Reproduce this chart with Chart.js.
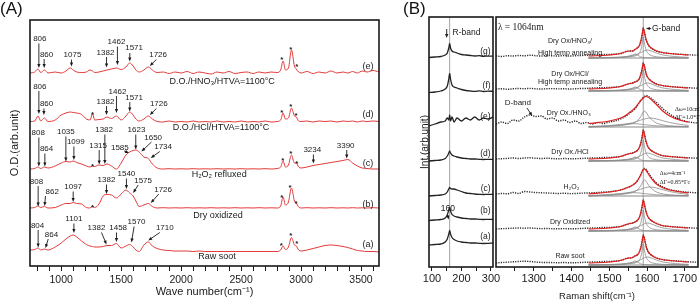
<!DOCTYPE html>
<html lang="en">
  <head>
    <meta charset="utf-8" />
    <title>FTIR and Raman spectra of treated soot</title>
    <style>
      * {
        margin: 0;
        padding: 0;
      }
      body {
        background: #fff;
        font-family: "Liberation Sans", Arial, sans-serif;
      }
      .figure {
        position: relative;
        width: 700px;
        height: 303px;
        overflow: hidden;
      }
      .figure canvas {
        position: absolute;
        left: 0;
        top: 0;
      }
      .panelTag {
        position: absolute;
        top: -1px;
        font-size: 17px;
        line-height: 20px;
        color: #111;
      }
    </style>
  </head>
  <body>
    <div class="figure">
      <canvas id="chartA" width="700" height="303"></canvas>
      <canvas id="chartR" width="700" height="303"></canvas>
      <canvas id="chartG" width="700" height="303"></canvas>
      <div class="panelTag" style="left: 0">(A)</div>
      <div class="panelTag" style="left: 403px">(B)</div>
    </div>

    <script src="https://cdn.jsdelivr.net/npm/chart.js"></script>

    <script>
      // ---------- panel A : FTIR, stacked, heights above each curve's baseline
      const ftirX = [740, 780, 806, 830, 860, 890, 950, 1000, 1040, 1075,
        1100, 1130, 1170, 1210, 1240, 1261, 1280, 1315, 1350, 1382,
        1420, 1460, 1500, 1540, 1571, 1600, 1623, 1650, 1690, 1726,
        1760, 1800, 1850, 1900, 1950, 2000, 2050, 2100, 2150, 2200,
        2250, 2300, 2350, 2400, 2450, 2500, 2550, 2600, 2650, 2700,
        2750, 2800, 2830, 2850, 2870, 2895, 2920, 2945, 2960, 2980,
        3000, 3050, 3100, 3150, 3200, 3250, 3300, 3350, 3390, 3430,
        3470, 3510, 3550, 3600, 3650];
      const ftirE = [0, 1, 4, 0.5, 3, 0, 1, 0, 2, 5,
        3, 1, 0.5, 1, 3, 2, 0.5, 1, 2, 3,
        4, 5, 3.5, 6, 10, 7, 3, 1, 3, 6,
        3, 0.5, 1, -0.5, 1, 0, 1.5, -0.5, 1, 0,
        -1, 1, 0, 1.5, -0.5, 0.5, 1, -0.5, 1, 0,
        1, 0.5, 3, 12, 3, 5, 23, 7, 4, 1,
        0, 1.5, -0.5, 1, 0, 2, 0, 1, 0, 1.5,
        0, 2, 1, 2.5, 1];
      const ftirD = [0.5, 1, 6, 1, 4, 0.5, 2, 7, 9, 10,
        9.5, 9, 7.5, 3, 2, 8, 2, 2.5, 3, 5,
        3.5, 6, 2, 6, 10, 7, 3, 1, 3, 6,
        3, 0.5, 0, 1, 0, 0.5, 0, 1, 0, 0.5,
        0, 1, 0, 0.5, 0, 1, 0, 0.5, 0, 1,
        0, 0.5, 2, 9, 3, 4, 14, 6, 5, 1,
        0.5, 1, 0, 1, 0.5, 1, 0, 1, 0.5, 1,
        0, 1, 0.5, 1, 0.5];
      const ftirC = [0, 0.5, 2, 0.5, 2, 1, 3, 6, 7.5, 7,
        8, 6.5, 5, 3, 2, 3, 2.5, 4, 3.5, 5,
        3, 0, 6, 14, 17, 18.5, 19, 17, 12, 10.5,
        5, 1, 0, 0.3, 0, 0.2, 0, 0.3, 0, 0.2,
        0, 0.3, 0, 0.2, 0, 0.3, 0, 0.2, 0, 0.3,
        0, 0.5, 2, 8, 2, 4, 14, 6, 6, 2,
        1, 2, 3.5, 4.5, 5.5, 6.5, 7.5, 8.5, 9.5, 6,
        3, 1, 0.5, 0, 0];
      const ftirB = [0, 0.5, 2, 0.5, 1.5, 0, 0.5, 3, 4.5, 4.5,
        5.5, 4.5, 4, 0.5, 0, 2, 0.5, 4, 12, 13.5,
        13, 10, 14, 18, 15, 12, 7, 1.5, 3, 4.5,
        1.5, 0, 0.3, 0, 0.2, 0, 0.3, 0, 0.2, 0,
        0.3, 0, 0.2, 0, 0.3, 0, 0.2, 0, 0.3, 0,
        0.2, 0, 2, 11, 3, 6, 20, 7, 5, 1,
        0, 0.3, 0, 0.2, 0, 0.3, 0, 0.2, 0, 0.3,
        0, 0.2, 0, 0.3, 0];
      const ftirA = [2, 2.5, 4, 2, 3, 2, 5, 9, 13, 16,
        17, 15, 11, 7.5, 6, 5.5, 5, 5, 5.5, 6.5,
        6.5, 8.5, 4, 6, 7.5, 5, 2, 0.5, 7, 10,
        6, 3.5, 2, 1.5, 1, 1, 1, 0.5, 1, 0.5,
        0.5, 0.5, 0.5, 0.5, 0.5, 0.5, 0.5, 0.5, 0.5, 0.5,
        0.5, 0.5, 2, 6, 2.5, 5, 14.5, 7, 6, 2,
        1, 2, 3.5, 5, 6.5, 7, 6.5, 5.5, 4.5, 3,
        1.5, 1, 0.5, 0.5, 0];
      const ftirOffsets = [193, 144, 97, 58, 14];
      const ftirTicks = [800, 900, 1000, 1100, 1200, 1300, 1400, 1500, 1600, 1700,
        1800, 1900, 2000, 2100, 2200, 2300, 2400, 2500, 2600, 2700,
        2800, 2900, 3000, 3100, 3200, 3300, 3400, 3500, 3600];
      const ftirTickLabels = [1000, 1500, 2000, 2500, 3000, 3500];

      // peak labels [text, x, y] and their arrows [x0, y0, x1, y1]
      const ftirPeakLabels = [
        ["806", 822, 227], ["860", 878, 211], ["1075", 1094, 211], ["1382", 1369, 213],
        ["1462", 1461, 224], ["1571", 1608, 218], ["1726", 1808, 211],
        ["806", 822, 179], ["860", 878, 162], ["1382", 1369, 164], ["1462", 1469, 174],
        ["1571", 1608, 168], ["1726", 1814, 162],
        ["808", 808, 133], ["864", 878, 117], ["1035", 1039, 134], ["1099", 1122, 124],
        ["1315", 1308, 120], ["1382", 1358, 136], ["1585", 1489, 118], ["1623", 1628, 136],
        ["1650", 1767, 128], ["1734", 1850, 119], ["3234", 3094, 116], ["3390", 3372, 120],
        ["808", 794, 84], ["862", 925, 74], ["1097", 1100, 79], ["1382", 1378, 86],
        ["1540", 1544, 92], ["1575", 1683, 85], ["1726", 1850, 76],
        ["804", 803, 40], ["864", 919, 31], ["1101", 1106, 47], ["1382", 1294, 38],
        ["1458", 1475, 38], ["1570", 1628, 44], ["1710", 1864, 38],
      ];
      const ftirArrows = [
        [814, 222.5, 814, 198], [858, 207, 858, 198], [1086, 206.5, 1086, 199.5],
        [1378, 209, 1378, 198.5], [1469, 219.5, 1469, 201], [1572, 213, 1572, 204.5],
        [1794, 206.5, 1739, 200],
        [814, 175, 814, 152], [856, 157.5, 856, 151], [1378, 160, 1378, 151],
        [1461, 170, 1461, 153], [1572, 164, 1572, 154.5], [1794, 157.5, 1739, 151],
        [814, 128.5, 814, 99.5], [864, 112.5, 864, 99.5], [1039, 129.5, 1039, 104.5],
        [1106, 119.5, 1106, 106], [1317, 116, 1317, 101.5], [1364, 131.5, 1364, 102],
        [1525, 115, 1566, 113], [1622, 131.5, 1622, 116.5], [1753, 124, 1669, 114.5],
        [1822, 114.5, 1747, 108], [3103, 111.5, 3103, 102.5], [3381, 116, 3381, 107.5],
        [808, 80, 808, 59.5], [869, 70, 862, 60], [1100, 74.5, 1100, 64],
        [1378, 81.5, 1378, 72], [1544, 87.5, 1544, 77], [1642, 81, 1600, 73],
        [1814, 72, 1747, 63],
        [808, 36, 808, 18.5], [892, 27, 869, 18], [1106, 42.5, 1106, 33],
        [1336, 33.5, 1378, 21.5], [1461, 33.5, 1461, 24], [1608, 39.5, 1586, 23.5],
        [1822, 33.5, 1726, 25.5],
      ];
      const ftirStars = [
        [2839, 209.5], [2914, 219.5], [2964, 202],
        [2839, 156.5], [2914, 162], [2958, 153.5], [1261, 154.5],
        [2847, 108], [2914, 115], [2964, 105.5], [1261, 102],
        [2839, 71.5], [2908, 81.5], [2958, 65.5], [1261, 61],
        [2836, 23], [2914, 33], [2964, 25],
      ];
      const ftirNames = [
        ["D.O./HNO₃/HTVA=1100°C", 2342, 184], ["D.O./HCl/HTVA=1100°C", 2333, 138],
        ["H₂O₂ refluxed", 2317, 91], ["Dry oxidized", 2308, 50], ["Raw soot", 2300, 9],
      ];
      const ftirTags = [["(e)", 3558, 199], ["(d)", 3558, 151], ["(c)", 3558, 102], ["(b)", 3558, 61], ["(a)", 3558, 21]];

      // ---------- panel B left : R-band (radial breathing) region
      const rbmX = [90, 110, 130, 145, 152, 157, 160, 163, 168, 175, 185, 200, 215, 230, 245, 260, 275, 290, 307];
      const rbmG = [-1, -0.5, 0, 1.5, 3.5, 8.5, 13, 8.5, 5.5, 4.5, 3.5, 2, 1.5, 1, 0.5, 0.8, 0.2, 0.4, 0.3];
      const rbmF = [-1, -0.5, 0.5, 2.5, 5.5, 12.5, 18, 12.5, 6.5, 4.5, 3.5, 2, 1, 0.5, 0.2, 0.6, 0, 0.3, 0.2];
      const rbmE = [-6, -4, -2, -1, 2, 0, 5, -1, 3, -2, 2, -1, 2, 0, 3, 0, 2, 1, 3];
      const rbmD = [-1.5, -1, -0.5, 1, 3.5, 6.5, 8.5, 6.5, 4.5, 3.5, 2.5, 1.5, 1, 0.5, 0.5, 0.2, 0, 0.2, 0];
      const rbmC = [-1.5, -1, -0.5, 0.5, 2.5, 5.5, 7, 6, 5.5, 5.5, 4.5, 3, 1.5, 1, 0.5, 0.2, 0, 0.2, 0];
      const rbmB = [-1, -0.5, 0, 1.5, 4.5, 9.5, 12, 8.5, 5, 3.5, 2.5, 1.5, 1, 0.5, 0.5, 0.2, 0, 0.2, 0];
      const rbmA = [-1.5, -1, -0.5, 1.5, 4.5, 9.5, 13, 9.5, 6, 4, 2.5, 1.5, 1, 0.5, 0.5, 0.2, 0, 0.2, 0.5];
      const rbmOffsets = [210.5, 175.5, 147, 107.5, 72.5, 47.5, 23.5];
      const rbmTicks = [100, 150, 200, 250, 300];
      const rbmTickLabels = [100, 200, 300];

      // ---------- panel B right : G-band region, data (dotted), fit (red), components (grey)
      const ramX = [1200, 1215, 1230, 1245, 1260, 1275, 1290, 1305, 1320, 1335,
        1350, 1365, 1380, 1395, 1410, 1425, 1440, 1455, 1470, 1485,
        1500, 1515, 1530, 1545, 1555, 1562, 1568, 1574, 1579, 1583,
        1587, 1590, 1593, 1597, 1602, 1608, 1615, 1625, 1640, 1660,
        1680, 1700, 1720, 1735];
      const ramDotG = [0, -0.5, 0.3, 0, 0.5, 0.2, 0.8, 0.3, 0, 0.5, 0.2, 0, 0.4, 0, 0.3, 0.5, 0.8, 1, 1.2, 1.5,
        1.5, 2, 2.5, 4.5, 5, 5, 6.5, 8, 10, 14, 21, 28, 24, 17, 12, 9, 7, 5, 3.5, 2.5, 2, 1.5, 1, 0.8];
      const ramDotF = [0, 0.3, -0.3, 0.2, 0.5, 0.3, 0.6, 0.2, 0, 0.3, 0.4, 0.1, 0.3, 0, 0.2, 0.5, 0.6, 1, 1.2, 1.4,
        1.5, 2, 2.5, 4.5, 5.5, 6, 7, 8, 10, 14, 20, 26, 23, 16, 11.5, 9, 7, 5, 3.5, 2.5, 2, 1.5, 1, 0.8];
      const ramDotE = [1, 3, 1.5, 5, 4, 8, 10, 8.5, 9, 6, 7, 4, 5, 2.5, 4, 1.5, 2.5, 1, 2.5, 1.5,
        3, 4, 6, 9, 12, 14, 16, 19, 22, 24, 26, 27.5, 28.5, 29.5, 29, 27.5, 25.5, 22.5, 17, 11, 6.5, 4, 2.5, 2];
      const ramDotD = [0, 0.3, 0.6, 1, 0.5, 1, 1.2, 0.8, 0.5, 0.8, 0.4, 0.2, 0.5, 0.2, 0.3, 0.5, 0.8, 1, 1.2, 1.5,
        1.5, 2, 2.5, 4.5, 5.5, 6, 7, 8.5, 11, 15, 22, 29, 25, 18, 12.5, 9.5, 7.5, 5.5, 3.5, 2.5, 2, 1.5, 1, 0.8];
      const ramDotC = [0, 0.5, 0.2, 1.5, 0.5, 2.5, 2, 1.5, 1.2, 1, 0.8, 0.5, 0.8, 0.4, 0.5, 0.8, 1, 1.2, 1.5, 2,
        2.2, 3, 4, 6, 7.5, 9, 10.5, 13, 16, 19, 22.5, 24.5, 25.5, 25, 22, 18.5, 15, 11, 7.5, 4.5, 3, 2, 1.5, 1];
      const ramDotB = [0, 0.3, 0.5, 0.8, 1, 0.8, 1, 0.6, 0.4, 0.5, 0.3, 0.2, 0.4, 0.2, 0.3, 0.5, 0.8, 1, 1.2, 1.5,
        1.5, 2, 2.5, 4.5, 5.5, 6, 7, 8.5, 11, 15, 22, 29, 25, 18, 12.5, 9.5, 7.5, 5.5, 3.5, 2.5, 2, 1.5, 1, 0.8];
      const ramDotA = [0, 0.5, 0.8, 1.2, 1.5, 1.8, 1.5, 1, 0.6, 0.5, 0.4, 0.3, 0.5, 0.2, 0.3, 0.5, 0.8, 1, 1.2, 1.5,
        1.5, 2, 2.5, 4.5, 5, 5.5, 7, 8, 10.5, 14.5, 21.5, 28, 24.5, 17.5, 12, 9, 7, 5, 3.5, 2.5, 2, 1.5, 1, 0.8];

      const fitX = [1445, 1500, 1530, 1545, 1555, 1562, 1568, 1574, 1579, 1583, 1587,
        1590, 1593, 1597, 1602, 1608, 1615, 1625, 1640, 1660, 1690, 1710];
      const fitG = [0, 1, 2.5, 4.5, 5, 5, 6.5, 8, 10, 14, 21, 28, 24, 17, 12, 9, 7, 5, 3.5, 2.5, 1.5, 1];
      const fitF = [0, 1, 2.5, 4.5, 5.5, 6, 7, 8, 10, 14, 20, 26, 23, 16, 11.5, 9, 7, 5, 3.5, 2.5, 1.5, 1];
      const fitE = [1.5, 4, 7, 10, 13, 15, 17, 20, 22.5, 24.5, 26, 27, 28, 28.5, 28, 26.5, 24, 20.5, 14.5, 9, 4.5, 3];
      const fitD = [0, 1, 2.5, 4.5, 5.5, 6, 7, 8.5, 11, 15, 22, 29, 25, 18, 12.5, 9.5, 7.5, 5.5, 3.5, 2.5, 1.5, 1];
      const fitC = [0, 2, 4, 6, 7.5, 9, 10.5, 13, 16, 19, 22.5, 24.5, 25, 24, 21, 17.5, 14, 10, 6.5, 4, 2, 1];
      const fitB = [0, 1, 2.5, 4.5, 5.5, 6, 7, 8.5, 11, 15.5, 23, 29, 24.5, 17.5, 12.5, 9.5, 7.5, 5.5, 3.5, 2.5, 1.5, 1];
      const fitA = [0, 1, 2.5, 4.5, 5, 5.5, 7, 8, 10.5, 14.5, 21.5, 28, 24.5, 17.5, 12, 9, 7, 5, 3.5, 2.5, 1.5, 1];

      // fitted components: narrow G, broad high-side band, low-side shoulder
      const sharpG = [0, 0.3, 0.6, 1, 1.3, 1.6, 2, 3, 4.5, 7.5, 14, 21, 15, 8.5, 5, 3, 2, 1.2, 0.7, 0.4, 0.2, 0.1];
      const sharpHi = [0, 0.5, 1, 1.5, 2, 2.4, 3, 3.7, 4.5, 5.3, 6, 6.6, 7.2, 7.8, 8, 7.5, 6.5, 5, 3.2, 2, 1, 0.6];
      const sharpLo = [0, 0.2, 0.6, 1.2, 2, 3, 4, 3.3, 2, 1.2, 0.7, 0.5, 0.4, 0.3, 0.2, 0.1, 0.1, 0, 0, 0, 0, 0];
      const broadG = [0, 0.8, 1.5, 2.2, 3, 3.5, 4.5, 6, 8, 10, 13, 15, 16, 15, 12, 9, 6.5, 4, 2.2, 1.2, 0.6, 0.3];
      const broadHi = [0, 1, 2, 3, 3.7, 4.3, 5, 5.7, 6.3, 6.8, 7.3, 7.7, 8, 8.4, 8.8, 9, 8.8, 8, 6.5, 4.5, 2.5, 1.5];
      const broadLo = [0.5, 1.5, 2.5, 3, 3.2, 3.3, 3.3, 3.2, 3, 2.8, 2.6, 2.5, 2.4, 2.2, 2, 1.8, 1.5, 1.2, 0.9, 0.6, 0.3, 0.2];

      const ramOffsets = [211, 178, 142, 108, 73, 38, 4];
      const ramTicks = [1250, 1300, 1350, 1400, 1450, 1500, 1550, 1600, 1650, 1700];
      const ramTickLabels = [1300, 1400, 1500, 1600, 1700];

      // ---------- shared drawing helpers
      const sans = "'Liberation Sans', Arial, sans-serif";
      const serif = "'Liberation Serif', 'Times New Roman', serif";
      Chart.defaults.font.family = sans;
      Chart.defaults.color = "#1a1a1a";

      // labels, arrows, stars, guide lines and the box frame
      const marks = {
        id: "marks",
        beforeDatasetsDraw(chart, args, o) {
          const { ctx, chartArea: { top, bottom }, scales: { x } } = chart;
          ctx.save();
          ctx.strokeStyle = "#8c8c8c";
          ctx.lineWidth = 0.8;
          (o.guides || []).forEach((v) => {
            const px = x.getPixelForValue(v);
            ctx.beginPath();
            ctx.moveTo(px, top);
            ctx.lineTo(px, bottom);
            ctx.stroke();
          });
          ctx.restore();
        },
        afterDatasetsDraw(chart, args, o) {
          const { ctx, chartArea: { left, top, right, bottom }, scales: { x, y } } = chart;
          ctx.save();
          ctx.fillStyle = "#1a1a1a";
          ctx.strokeStyle = "#1a1a1a";
          ctx.lineWidth = 0.9;
          (o.arrows || []).forEach(([x0, y0, x1, y1]) => {
            const ax = x.getPixelForValue(x0), ay = y.getPixelForValue(y0);
            const bx = x.getPixelForValue(x1), by = y.getPixelForValue(y1);
            const a = Math.atan2(by - ay, bx - ax);
            const c = Math.cos(a), s = Math.sin(a);
            ctx.beginPath();
            ctx.moveTo(ax, ay);
            ctx.lineTo(bx - 3 * c, by - 3 * s);
            ctx.stroke();
            ctx.beginPath();
            ctx.moveTo(bx, by);
            ctx.lineTo(bx - 4 * c + 1.6 * s, by - 4 * s - 1.6 * c);
            ctx.lineTo(bx - 4 * c - 1.6 * s, by - 4 * s + 1.6 * c);
            ctx.closePath();
            ctx.fill();
          });
          ctx.textBaseline = "middle";
          (o.texts || []).forEach(([t, tx, ty, size, align, family]) => {
            ctx.font = (size || 8) + "px " + (family || sans);
            ctx.textAlign = align || "center";
            ctx.fillText(t, x.getPixelForValue(tx), y.getPixelForValue(ty));
          });
          ctx.font = "bold 8px " + sans;
          ctx.textAlign = "center";
          ctx.textBaseline = "alphabetic";
          (o.stars || []).forEach(([sx, sy]) => {
            ctx.fillText("*", x.getPixelForValue(sx), y.getPixelForValue(sy) + 5);
          });
          ctx.lineWidth = 1.6;
          ctx.strokeRect(left, top, right - left, bottom - top);
          ctx.restore();
        },
      };

      function line(xs, vals, offset, style) {
        return Object.assign(
          {
            data: xs.map((x, i) => ({ x, y: offset + vals[i] })),
            pointRadius: 0,
            borderWidth: 1,
            fill: false,
            cubicInterpolationMode: "monotone",
          },
          style
        );
      }

      function xAxis(min, max, ticks, labels, fontSize, axisHeight, tickLen, tickPad, title, titleSize, titlePad) {
        return {
          type: "linear",
          min,
          max,
          afterBuildTicks: (s) => {
            s.ticks = ticks.map((v) => ({ value: v }));
          },
          afterFit: (s) => {
            s.height = axisHeight;
          },
          border: { display: false },
          grid: { drawOnChartArea: false, drawTicks: true, tickLength: tickLen, color: "#1a1a1a", lineWidth: 1 },
          ticks: {
            autoSkip: false,
            maxRotation: 0,
            padding: tickPad,
            font: { size: fontSize },
            callback: (v) => (labels.includes(v) ? String(v) : ""),
          },
          title: { display: true, text: title, font: { size: titleSize }, padding: { top: 0, bottom: titlePad } },
        };
      }

      function baseOptions(padding, scales, marksOpts) {
        return {
          responsive: false,
          devicePixelRatio: 1,
          animation: false,
          events: [],
          layout: { autoPadding: false, padding },
          scales,
          plugins: { legend: { display: false }, tooltip: { enabled: false }, marks: marksOpts },
        };
      }

      // ---------- chart A
      const ftirSeries = [ftirE, ftirD, ftirC, ftirB, ftirA];
      new Chart(document.getElementById("chartA"), {
        type: "line",
        data: {
          datasets: ftirSeries.map((vals, k) =>
            line(ftirX, vals, ftirOffsets[k], { borderColor: "#e23a3a", borderWidth: 1 })
          ),
        },
        options: baseOptions(
          { left: 0, right: 321, top: 20, bottom: 0 },
          {
            x: xAxis(740, 3650, ftirTicks, ftirTickLabels, 10.5, 37, 5, 3, "Wave number(cm⁻¹)", 11, 4),
            y: {
              min: 0,
              max: 246,
              afterFit: (s) => {
                s.width = 30;
              },
              border: { display: false },
              grid: { display: false },
              ticks: { display: false },
              title: { display: true, text: "O.D.(arb.unit)", font: { size: 11 }, padding: { top: 8, bottom: 0 } },
            },
          },
          {
            texts: ftirPeakLabels.map((p) => [p[0], p[1], p[2], 8])
              .concat(ftirNames.map((p) => [p[0], p[1], p[2], 9]))
              .concat(ftirTags.map((p) => [p[0], p[1], p[2], 9])),
            arrows: ftirArrows,
            stars: ftirStars,
          }
        ),
        plugins: [marks],
      });

      // ---------- chart B left (R-band)
      const rbmSeries = [rbmG, rbmF, rbmE, rbmD, rbmC, rbmB, rbmA];
      new Chart(document.getElementById("chartR"), {
        type: "line",
        data: {
          datasets: rbmSeries.map((vals, k) =>
            line(rbmX, vals, rbmOffsets[k], { borderColor: "#222", borderWidth: 1.3 })
          ),
        },
        options: baseOptions(
          { left: 400, right: 207, top: 17, bottom: 0 },
          {
            x: xAxis(90, 307, rbmTicks, rbmTickLabels, 11, 36, 4, 1, "", 10, 0),
            y: {
              min: 0,
              max: 250,
              afterFit: (s) => {
                s.width = 29;
              },
              border: { display: false },
              grid: { display: false },
              ticks: { display: false },
              title: { display: true, text: "Int.(arb.unit)", font: { size: 10 }, padding: { top: 19, bottom: 0 } },
            },
          },
          {
            guides: [160],
            texts: [
              ["R-band", 170, 234, 8.5, "left"],
              ["(g)", 299, 215.5, 8.5, "right"], ["(f)", 299, 181, 8.5, "right"],
              ["(e)", 299, 150, 8.5, "right"], ["(d)", 299, 113, 8.5, "right"],
              ["(c)", 299, 78, 8.5, "right"], ["(b)", 299, 56.5, 8.5, "right"],
              ["(a)", 299, 30, 8.5, "right"], ["160", 154, 58, 8.5],
            ],
            arrows: [[150, 238, 150, 229], [152, 53, 157, 47.5]],
          }
        ),
        plugins: [marks],
      });

      // ---------- chart B right (G-band)
      const ramDots = [ramDotG, ramDotF, ramDotE, ramDotD, ramDotC, ramDotB, ramDotA];
      const ramFits = [fitG, fitF, fitE, fitD, fitC, fitB, fitA];
      const ramKinds = ["sharp", "sharp", "broad", "sharp", "broad", "sharp", "sharp"];
      const compSets = { sharp: [sharpG, sharpHi, sharpLo], broad: [broadG, broadHi, broadLo] };
      const ramDatasets = [];
      ramDots.forEach((dots, k) => {
        const off = ramOffsets[k];
        ramDatasets.push(line(fitX, fitX.map(() => 0), off - 2, { borderColor: "#8a8a8a", borderWidth: 1.1, order: 3 }));
        compSets[ramKinds[k]].forEach((comp) =>
          ramDatasets.push(line(fitX, comp, off - 2, { borderColor: "#8a8a8a", borderWidth: 0.8, order: 2 }))
        );
        ramDatasets.push(line(ramX, dots, off, { borderColor: "#2a2a2a", borderWidth: 1.4, borderDash: [1.2, 1.2], order: 1 }));
        ramDatasets.push(line(fitX, ramFits[k], off, { borderColor: "#e01e1e", borderWidth: 1.2, order: 0 }));
      });

      new Chart(document.getElementById("chartG"), {
        type: "line",
        data: { datasets: ramDatasets },
        options: baseOptions(
          { left: 496, right: 2, top: 17, bottom: 0 },
          {
            x: xAxis(1200, 1735, ramTicks, ramTickLabels, 11, 36, 4, 1, "Raman shift(cm⁻¹)", 9.5, 0.5),
            y: { display: false, min: 0, max: 250 },
          },
          {
            guides: [1590],
            texts: [
              ["λ = 1064nm", 1205, 240, 9.5, "left", serif],
              ["G-band", 1613, 238.5, 8.5, "left"],
              ["Dry Ox/HNO₃/", 1396, 225.5, 7], ["High temp annealing", 1396, 214, 7],
              ["Dry Ox/HCl/", 1396, 193, 7], ["High temp annealing", 1396, 184.5, 7],
              ["D-band", 1258, 164, 8],
              ["Dry Ox./HNO₃", 1393, 153.5, 7],
              ["Δω=10cm⁻¹", 1674, 158, 6, "left", serif], ["ΔΓ=1.0*Γc", 1674, 150, 6, "left", serif],
              ["Dry Ox./HCl", 1396, 115, 7],
              ["Δω=4cm⁻¹", 1634, 94, 6, "left", serif], ["ΔΓ=0.85*Γc", 1634, 85, 6, "left", serif],
              ["H₂O₂", 1400, 80, 7], ["Dry Oxidized", 1396, 45, 7], ["Raw soot", 1396, 10.5, 7],
            ],
            arrows: [[1282, 159, 1296, 151], [1611, 238.5, 1597, 238.5]],
          }
        ),
        plugins: [marks],
      });
    </script>
  </body>
</html>
